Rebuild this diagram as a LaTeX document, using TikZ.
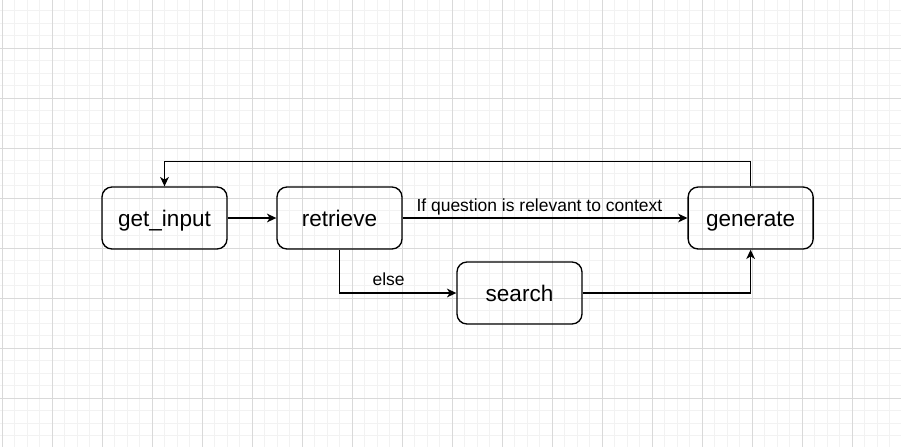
\documentclass[tikz,border=0pt]{standalone}
\usepackage{fontspec}
\setmainfont{Liberation Sans}
\usetikzlibrary{positioning}
\usetikzlibrary{arrows.meta}
\tikzset{box/.style={draw,rounded corners=7.5pt,line width=1pt,minimum width=93.75pt,minimum height=46.5pt,text height=15.5pt,text depth=3.5pt,font=\fontsize{16.9}{20}\selectfont},
arr/.style={line width=1pt,-{Stealth[length=7pt,width=6.5pt,inset=2pt]}},
minorline/.style={line width=0.75pt,black!5},
majorline/.style={line width=0.75pt,black!15},
lbl/.style={font=\fontsize{13.1}{16}\selectfont,anchor=base}}
\begin{document}
\begin{tikzpicture}[x=0.75pt,y=-0.75pt]
\useasboundingbox (0,0) rectangle (901,447);
\fill[white] (0,0) rectangle (901,447);
% grid
\foreach \i in {0,...,71} {
\draw[minorline] ({2.3+12.5*\i},0) -- ({2.3+12.5*\i},447);
}
\foreach \i in {0,...,36} {
\draw[minorline] (0,{-1.7+12.5*\i}) -- (901,{-1.7+12.5*\i});
}
\foreach \i in {0,...,17} {
\draw[majorline] ({2.3+50*\i},0) -- ({2.3+50*\i},447);
}
\foreach \i in {1,...,9} {
\draw[majorline] (0,{-1.7+50*\i}) -- (901,{-1.7+50*\i});
}
% nodes
\node (gi) at (164.5,218) [box] {get\_input};
\node (rt) [box, right=36.5pt of gi] {retrieve};
\node (gen) [box, right=213.6pt of rt] {generate};
\node (sr) at (519.5,293) [box] {search};
% edges
\draw[arr] (gi) -- (rt);
\draw[arr] (rt) -- node[lbl, pos=0.48, yshift=4.7pt] {If question is relevant to context} (gen);
\draw[arr] (rt.south) |- node[lbl, pos=0.71, yshift=5.8pt] {else} (sr.west);
\draw[arr] (sr.east) -| (gen.south);
\draw[arr] (gen.north) -- ++(0,-25) -| (gi.north);
\end{tikzpicture}
\end{document}
